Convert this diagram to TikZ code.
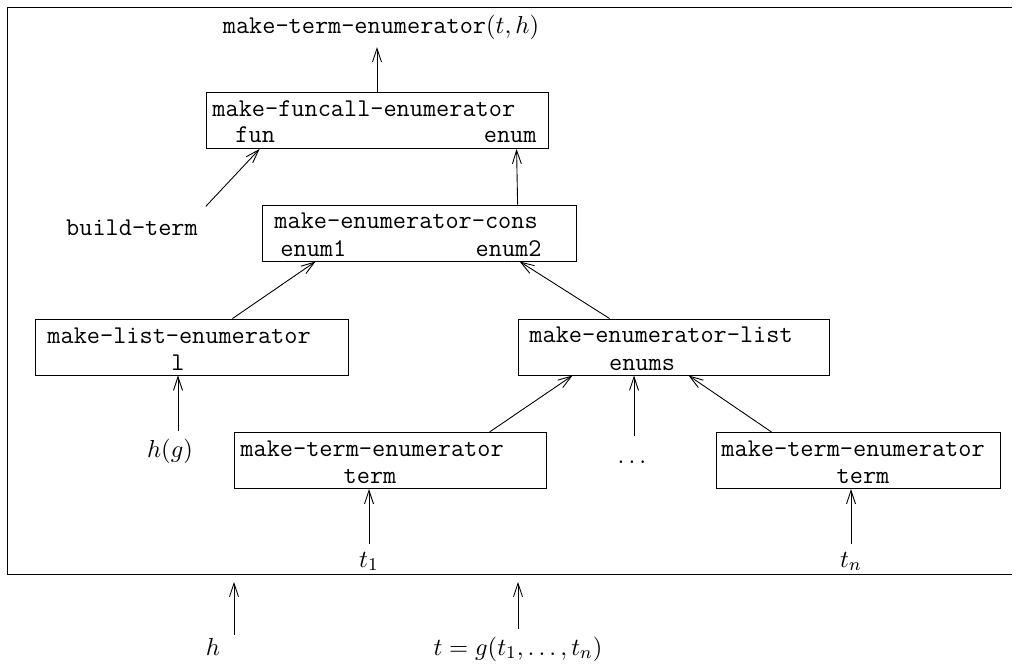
\documentclass[tikz,border=0pt]{standalone}
\usepackage{amsmath,amssymb}
\usepackage{tikz}
\usetikzlibrary{arrows.meta,positioning,calc}

\begin{document}
\begin{tikzpicture}[x=0.446pt,y=-0.446pt,font=\fontsize{11.4pt}{13pt}\selectfont\ttfamily,>={Straight Barb[length=6pt,width=4pt]},
  procbox/.style={draw,inner sep=0pt,minimum height=25pt},
  lbl/.style={inner sep=0pt},
  mathlbl/.style={font=\fontsize{11pt}{13pt}\selectfont}]
\useasboundingbox (0,0) rectangle (1018,666);
% outer frame, open at the right page edge
\draw (7,7) -- (1012,7);
\draw (7,7) -- (7,574);
\draw (7,574) -- (1012,574);
\coordinate (framebot) at (7,574);
% enumerator boxes
\node[procbox,minimum width=152.5pt] (fcall) at (377,120.5) {};
\node[procbox,minimum width=140pt] (econs) at (419,233) {};
\node[procbox,minimum width=139.2pt] (lenum) at (192,347) {};
\node[procbox,minimum width=138.7pt] (elist) at (673.5,347) {};
\node[procbox,minimum width=139.2pt] (tenumone) at (390,460.5) {};
\node[procbox,minimum width=126.7pt] (tenumn) at (858,460.5) {};
% texts inside the boxes
\node[lbl,anchor=base west] (fcallname) at (212,116) {make-funcall-enumerator};
\node[lbl,anchor=base west] (fun) at (235,142) {fun};
\node[lbl,anchor=base east] (enum) at (537,142) {enum};
\node[lbl,anchor=base west] (econsname) at (274,228) {make-enumerator-cons};
\node[lbl,anchor=base west] (enumone) at (280,256) {enum1};
\node[lbl,anchor=base east] (enumtwo) at (542,256) {enum2};
\node[lbl,anchor=base west] (lenumname) at (47,343) {make-list-enumerator};
\node[lbl,anchor=base] (ell) at (178,370) {l};
\node[lbl,anchor=base west] (elistname) at (529,342) {make-enumerator-list};
\node[lbl,anchor=base] (enums) at (642,370) {enums};
\node[lbl,anchor=base west] (tenumonename) at (240,456) {make-term-enumerator};
\node[lbl,anchor=base] (termone) at (370,483) {term};
\node[lbl,anchor=base west] (tenumnname) at (721,456) {make-term-enumerator};
\node[lbl,anchor=base] (termn) at (863,483) {term};
% texts outside
\node[anchor=base] (result) at (381,33) {make-term-enumerator$(t,h)$};
\node[anchor=base] (build) at (132,235) {build-term};
\node[anchor=base,mathlbl] (hg) at (170,457) {$h(g)$};
\node[anchor=base,text height=2ex] (dots) at (634,463) {$\dots$};
\node[anchor=base,mathlbl] (tone) at (369,567) {$t_1$};
\node[anchor=base,mathlbl] (tn) at (851,567) {$t_n$};
\node[anchor=base,mathlbl] (h) at (213,655) {$h$};
\node[anchor=base,mathlbl] (tg) at (518,655) {$t=g(t_1,\dots,t_n)$};
\coordinate (hin) at ($(h.north east)+(6,5)$);
% arrows
\draw[->] (fcall.north) -- (fcall.north |- result.south);
\draw[->] ($(build.north east)+(0,-5)$) -- ($(fcall.south west)+(54,0)$);
\draw[->] ($(econs.north west)+(256,0)$) -- ($(fcall.south west)+(311,0)$);
\draw[->] ($(lenum.north west)+(197,0)$) -- ($(econs.south west)+(54,0)$);
\draw[->] ($(elist.north west)+(92,0)$) -- ($(econs.south west)+(258,0)$);
\draw[->] (hg.north -| ell) -- (lenum.south -| ell);
\draw[->] ($(tenumone.north west)+(256,0)$) -- ($(elist.south west)+(55,0)$);
\draw[->] (dots.north) -- (elist.south -| dots.north);
\draw[->] ($(tenumn.north west)+(56,0)$) -- ($(elist.south west)+(171,0)$);
\draw[->] (tone.north) -- (tenumone.south -| tone.north);
\draw[->] (tn.north) -- (tenumn.south -| tn.north);
\draw[->,shorten >=3.5pt] (hin) -- (framebot -| hin);
\draw[->,shorten >=3.5pt] (tg.north) -- (framebot -| tg.north);
\end{tikzpicture}
\end{document}
